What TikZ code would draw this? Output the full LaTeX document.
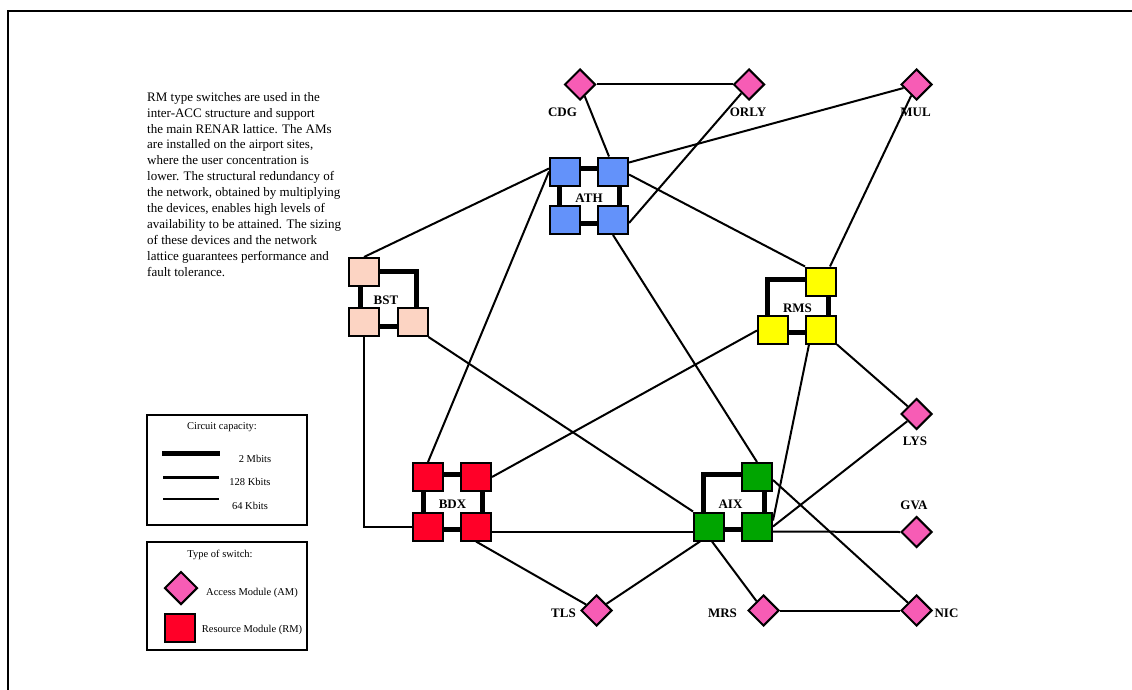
\documentclass[tikz,border=0pt]{standalone}
\usepackage{fontspec}
\setmainfont{Liberation Serif}
\usetikzlibrary{shapes.geometric,calc,backgrounds}
\definecolor{amPink}{RGB}{247,92,181}
\definecolor{athBlue}{RGB}{99,146,250}
\definecolor{bstPeach}{RGB}{252,212,195}
\definecolor{rmsYellow}{RGB}{255,255,0}
\definecolor{bdxRed}{RGB}{255,0,40}
\definecolor{aixGreen}{RGB}{0,165,0}
\begin{document}
\begin{tikzpicture}[x=1pt,y=-1pt,
  am/.style={diamond, draw=black, line width=2pt, fill=amPink, minimum width=31pt, minimum height=31pt, inner sep=0pt},
  rm/.style={rectangle, draw=black, line width=2pt, minimum width=30pt, minimum height=28pt, inner sep=0pt},
  link/.style={line width=2pt},
  mbit/.style={line width=5pt},
  kbit/.style={line width=3pt},
  lbl/.style={font=\fontsize{13}{13}\selectfont\bfseries, inner sep=0pt},
  small/.style={font=\fontsize{10.5}{12}\selectfont, inner sep=0pt},
  legbox/.style={draw=black, line width=2.5pt}
]
\useasboundingbox (0,0) rectangle (1132,690);
\draw[line width=2pt] (8,690) -- (8,11) -- (1132,11);

% description text
\node[anchor=north west, inner sep=0pt, align=left, font=\fontsize{13}{15.9}\selectfont] (desc) at (147,92)
{RM type switches are used in the\\
inter-ACC structure and support\\
the main RENAR lattice. The AMs\\
are installed on the airport sites,\\
where the user concentration is\\
lower. The structural redundancy of\\
the network, obtained by multiplying\\
the devices, enables high levels of\\
availability to be attained. The sizing\\
of these devices and the network\\
lattice guarantees performance and\\
fault tolerance.};

% access modules
\node[am] (cdg) at (580,84.5) {};
\node[am] (orly) at (749,84.5) {};
\node[am] (mul) at (916.5,84.5) {};
\node[am] (lys) at (916.5,414) {};
\node[am] (gva) at (916.5,532) {};
\node[am] (tls) at (596.5,610.5) {};
\node[am] (mrs) at (763.5,610.5) {};
\node[am] (nic) at (916.5,610.5) {};
\node[lbl] (cdgl) at (562.5,112.5) {CDG};
\node[lbl] (orlyl) at (748,112.5) {ORLY};
\node[lbl] (mull) at (915.5,112.5) {MUL};
\node[lbl] (lysl) at (915,441) {LYS};
\node[lbl] (gval) at (914,505) {GVA};
\node[lbl] (tlsl) at (563.5,613.5) {TLS};
\node[lbl] (mrsl) at (722.5,613.5) {MRS};
\node[lbl] (nicl) at (946.5,613.5) {NIC};

% resource modules
\node[rm, fill=athBlue] (ath1) at (565,171.5) {};
\node[rm, fill=athBlue] (ath2) at (613,171.5) {};
\node[rm, fill=athBlue] (ath3) at (565,220) {};
\node[rm, fill=athBlue] (ath4) at (613,220) {};
\node[lbl] (athl) at (589,198.5) {ATH};

\node[rm, fill=bstPeach] (bst1) at (364,272) {};
\node[rm, fill=bstPeach] (bst3) at (364,322) {};
\node[rm, fill=bstPeach] (bst4) at (412.5,322) {};
\node[lbl] (bstl) at (386,300.5) {BST};

\node[rm, fill=rmsYellow] (rms2) at (821,281.5) {};
\node[rm, fill=rmsYellow] (rms3) at (773,329.5) {};
\node[rm, fill=rmsYellow] (rms4) at (821,329.5) {};
\node[lbl] (rmsl) at (797.5,308) {RMS};

\node[rm, fill=bdxRed] (bdx1) at (428,477) {};
\node[rm, fill=bdxRed] (bdx2) at (476,477) {};
\node[rm, fill=bdxRed] (bdx3) at (428,526.5) {};
\node[rm, fill=bdxRed] (bdx4) at (476,526.5) {};
\node[lbl] (bdxl) at (452.5,504) {BDX};

\node[rm, fill=aixGreen] (aix2) at (757,477) {};
\node[rm, fill=aixGreen] (aix3) at (709,526.5) {};
\node[rm, fill=aixGreen] (aix4) at (757,526.5) {};
\node[lbl] (aixl) at (730.5,504) {AIX};

% 2 Mbit links inside clusters
\begin{scope}[on background layer]
\draw[mbit] ($(ath1.center)+(-6,-3.5)$) rectangle ($(ath4.center)+(6,3)$);
\draw[mbit] ($(bst1.center)+(-4,-1)$) rectangle ($(bst4.center)+(3.5,4)$);
\draw[mbit] ($(rms3.center)+(-6,2.5)$) rectangle ($(rms2.center)+(7,-2.5)$);
\draw[mbit] ($(bdx1.center)+(-5,-3)$) rectangle ($(bdx4.center)+(6,2.5)$);
\draw[mbit] ($(aix3.center)+(-6,2.5)$) rectangle ($(aix2.center)+(7,-3)$);
\end{scope}

% links
\draw[link] (cdg.east) -- (orly.west);
\draw[link] (cdg) -- ($(ath2.north)+(-4,0)$);
\draw[link] (orly) -- ($(ath4.east)+(0,3)$);
\draw[link] (mul) -- ($(ath2.east)+(0,-9)$);
\draw[link] (mul) -- ($(rms2.north)+(9,0)$);
\draw[link] ($(ath2.east)+(0,3)$) -- (rms2.north west);
\draw[link] ($(ath1.west)+(0,-3)$) -- (bst1.north);
\draw[link] (ath1.west) -- (bdx1.north);
\draw[link] (ath4.south) -- (aix2.north);
\draw[link] (bst3.south) |- (bdx3.west);
\draw[link] (bst4.south east) -- (aix3.north west);
\draw[link] (bdx2.east) -- ($(rms3.west)+(0,1)$);
\draw[link] ($(bdx4.east)+(0,5)$) -- ($(aix3.west)+(0,5)$);
\draw[link] (bdx4.south) -- (tls);
\draw[link] ($(aix3.south)+(-9,0)$) -- (tls);
\draw[link] ($(aix3.south)+(3,0)$) -- (mrs);
\draw[link] ($(aix4.east)+(0,5)$) -- (gva.west);
\draw[link] (aix4.east) -- (lys);
\draw[link] ($(aix4.east)+(0,-6)$) -- ($(rms4.south)+(-12,0)$);
\draw[link] ($(aix2.east)+(0,3)$) -- (nic);
\draw[link] (rms4.south east) -- (lys);
\draw[link] (mrs.east) -- (nic.west);

% legend 1
\node[legbox, minimum width=160pt, minimum height=110pt, inner sep=0pt] (leg1) at (227,470) {};
\node[small] (leg1t) at (222,427) {Circuit capacity:};
\coordinate (l1a) at (162,453); \coordinate (l1b) at (220,453);
\coordinate (l2a) at (163,477); \coordinate (l2b) at (219,477);
\coordinate (l3a) at (163,499); \coordinate (l3b) at (219,499);
\draw[mbit] (l1a) -- (l1b);
\draw[kbit] (l2a) -- (l2b);
\draw[link] (l3a) -- (l3b);
\node[small] (leg1a) at (255,459) {2 Mbits};
\node[small] (leg1b) at (250,482) {128 Kbits};
\node[small] (leg1c) at (250,506) {64 Kbits};

% legend 2
\node[legbox, minimum width=160pt, minimum height=108pt, inner sep=0pt] (leg2) at (227,596) {};
\node[small] (leg2t) at (220,555) {Type of switch:};
\node[am, minimum width=33pt, minimum height=33pt] (legam) at (181,588) {};
\node[small] (legamt) at (252,593) {Access Module (AM)};
\node[rm, fill=bdxRed] (legrm) at (180,628) {};
\node[small] (legrmt) at (252,630) {Resource Module (RM)};
\end{tikzpicture}
\end{document}
